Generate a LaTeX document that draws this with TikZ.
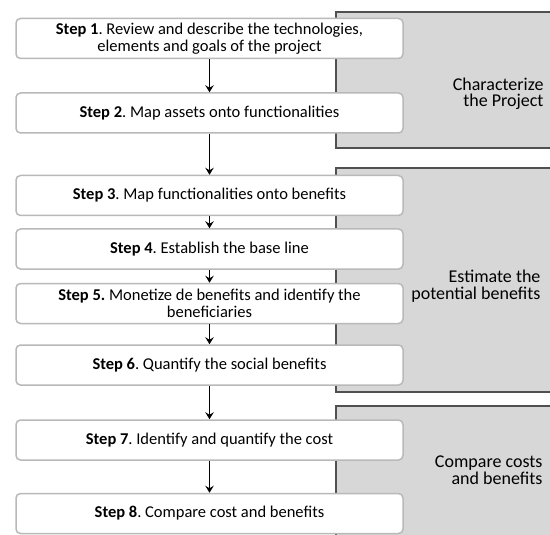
\documentclass[tikz,border=0pt]{standalone}
\usepackage{fontspec}
\setmainfont{Carlito}
\usetikzlibrary{arrows.meta}
\definecolor{panelfill}{RGB}{215,215,215}
\definecolor{panelline}{RGB}{80,80,80}
\definecolor{boxline}{RGB}{185,185,185}
\tikzset{
  stepbox/.style={draw=boxline, line width=1.5pt, fill=white, rounded corners=4.5pt,
    minimum width=387pt, minimum height=40pt, align=center, inner sep=2pt,
    font=\fontsize{16.5}{16.5}\selectfont},
  panel/.style={fill=panelfill, draw=none},
  panelborder/.style={draw=panelline, line width=1.2pt},
  paneltext/.style={anchor=east, align=right, font=\fontsize{18}{16.5}\selectfont},
  flow/.style={draw=black, line width=1.4pt, -{Stealth[length=7pt,width=8.5pt,inset=2.5pt]}}
}
\begin{document}
\frenchspacing
\begin{tikzpicture}[x=1pt,y=-1pt]
\useasboundingbox (0,0) rectangle (550,535);
\clip (0,0) rectangle (550,535);
% panels
\fill[panel] (336,12) rectangle (550,148);
\draw[panelborder] (551,12) -- (336,12) -- (336,148) -- (551,148);
\fill[panel] (336,168) rectangle (550,392);
\draw[panelborder] (551,168) -- (336,168) -- (336,392) -- (551,392);
\fill[panel] (336,406) rectangle (550,536);
\draw[panelborder] (551,406) -- (336,406) -- (336,536);
\node[paneltext] (p1) at (547,94) {Characterize\\the Project};
\node[paneltext] (p2) at (544,286) {Estimate the\\potential benefits};
\node[paneltext] (p3) at (546,470) {Compare costs\\and benefits};
% steps
\node[stepbox] (s1) at (209.5,38.5) {\textbf{Step 1}. Review and describe the technologies,\\elements and goals of the project};
\node[stepbox] (s2) at (209.5,113) {\textbf{Step 2}. Map assets onto functionalities};
\node[stepbox] (s3) at (209.5,195.5) {\textbf{Step 3}. Map functionalities onto benefits};
\node[stepbox] (s4) at (209.5,249) {\textbf{Step 4}. Establish the base line};
\node[stepbox] (s5) at (209.5,303.5) {\textbf{Step 5.} Monetize de benefits and identify the\\beneficiaries};
\node[stepbox] (s6) at (209.5,365) {\textbf{Step 6}. Quantify the social benefits};
\node[stepbox] (s7) at (209.5,440) {\textbf{Step 7}. Identify and quantify the cost};
\node[stepbox] (s8) at (209.5,513.5) {\textbf{Step 8}. Compare cost and benefits};
% arrows
\draw[flow] (s1) -- (s2);
\draw[flow] (s2) -- (s3);
\draw[flow] (s3) -- (s4);
\draw[flow] (s4) -- (s5);
\draw[flow] (s5) -- (s6);
\draw[flow] (s6) -- (s7);
\draw[flow] (s7) -- (s8);
\end{tikzpicture}
\end{document}
